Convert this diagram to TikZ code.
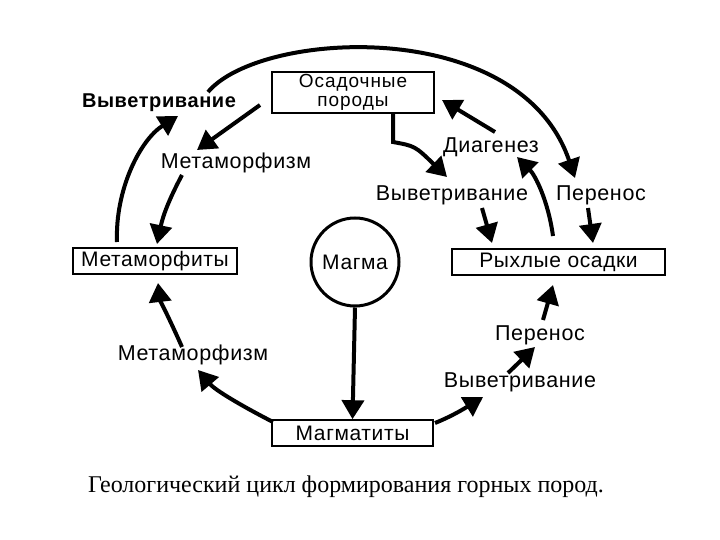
\documentclass[tikz,border=0pt]{standalone}
\usepackage{fontspec}
\setmainfont{Liberation Serif}
\newfontfamily\labfont[LetterSpace=3]{Liberation Sans}
\newfontfamily\boxfont[LetterSpace=5]{Liberation Sans}
\usetikzlibrary{arrows.meta}
\begin{document}
\begin{tikzpicture}[x=1pt,y=-1pt,
  lab/.style={font=\labfont\fontsize{21.5}{22}\selectfont, inner sep=0pt},
  box/.style={draw, line width=1.6pt, inner sep=0pt, font=\labfont\fontsize{21}{17}\selectfont, align=center},
  arr/.style={line width=4pt, -{Triangle[length=19pt,width=22pt]}}]
\useasboundingbox[fill=white] (0,0) rectangle (720,540);

% boxes
\node[box, minimum width=162pt, minimum height=41pt, font=\boxfont\fontsize{19}{19}\selectfont] (sed) at (353,92.5) {Осадочные\\породы};
\node[box, minimum width=164pt, minimum height=26pt] (meta) at (155,261) {Метаморфиты};
\node[box, minimum width=213pt, minimum height=26pt] (loose) at (558.5,262) {Рыхлые осадки};
\node[box, minimum width=161pt, minimum height=26pt] (magm) at (352.5,433) {Магматиты};
\node[circle, draw, line width=3pt, minimum size=88pt, inner sep=0pt, font=\labfont\fontsize{21}{21}\selectfont] (magma) at (355,262) {Магма};

% labels
\node[lab, font=\labfont\bfseries\fontsize{20}{22}\selectfont] (w1) at (159,103) {Выветривание};
\node[lab] (m1) at (236,163) {Метаморфизм};
\node[lab] (dg) at (491,147) {Диагенез};
\node[lab] (w2) at (452,195) {Выветривание};
\node[lab] (p1) at (601,195) {Перенос};
\node[lab] (m2) at (193,355) {Метаморфизм};
\node[lab] (p2) at (540,335) {Перенос};
\node[lab] (w3) at (520,382) {Выветривание};

% caption
\node[inner sep=0pt, font=\fontsize{24}{26}\selectfont] (cap) at (346,487) {Геологический цикл формирования горных пород.};

% coordinates
\coordinate (a1s) at (208,92);   \coordinate (a1e) at (575,178);
\coordinate (a2s) at (117,242);  \coordinate (a2e) at (178,116);
\coordinate (a3s) at (260,105);  \coordinate (a3e) at (197,150);
\coordinate (a4s) at (182,175);  \coordinate (a4e) at (157,244);
\coordinate (a5s) at (393,113);  \coordinate (a5k) at (393,142); \coordinate (a5e) at (447,177);
\coordinate (a6s) at (495,132);  \coordinate (a6e) at (442,100);
\coordinate (a7s) at (553,236);  \coordinate (a7e) at (517,157);
\coordinate (a8s) at (482,208);  \coordinate (a8e) at (492,243);
\coordinate (a9s) at (588,208);  \coordinate (a9e) at (593,243);
\coordinate (b1s) at (435,423);  \coordinate (b1e) at (483,397);
\coordinate (b2s) at (508,373);  \coordinate (b2e) at (535,347);
\coordinate (b3s) at (543,320);  \coordinate (b3e) at (553,285);
\coordinate (b4s) at (273,422);  \coordinate (b4e) at (198,370);
\coordinate (b5s) at (182,347);  \coordinate (b5e) at (158,283);

% arrows
\draw[arr] (a1s) .. controls (260,30) and (520,15) .. (a1e);
\draw[arr] (a2s) .. controls (115,190) and (140,140) .. (a2e);
\draw[arr] (a3s) -- (a3e);
\draw[arr] (a4s) to[bend right=8] (a4e);
\draw[arr] (a5s) -- (a5k) .. controls (415,146) .. (a5e);
\draw[arr] (a6s) -- (a6e);
\draw[arr] (a7s) .. controls (548,200) and (535,175) .. (a7e);
\draw[arr] (a8s) -- (a8e);
\draw[arr] (a9s) -- (a9e);
\draw[arr] (b1s) .. controls (455,415) and (470,405) .. (b1e);
\draw[arr] (b2s) -- (b2e);
\draw[arr] (b3s) -- (b3e);
\draw[arr] (b4s) .. controls (240,405) and (215,390) .. (b4e);
\draw[arr] (b5s) .. controls (170,320) and (160,300) .. (b5e);
\draw[arr] (magma.south) -- (magm.north);
\end{tikzpicture}
\end{document}
